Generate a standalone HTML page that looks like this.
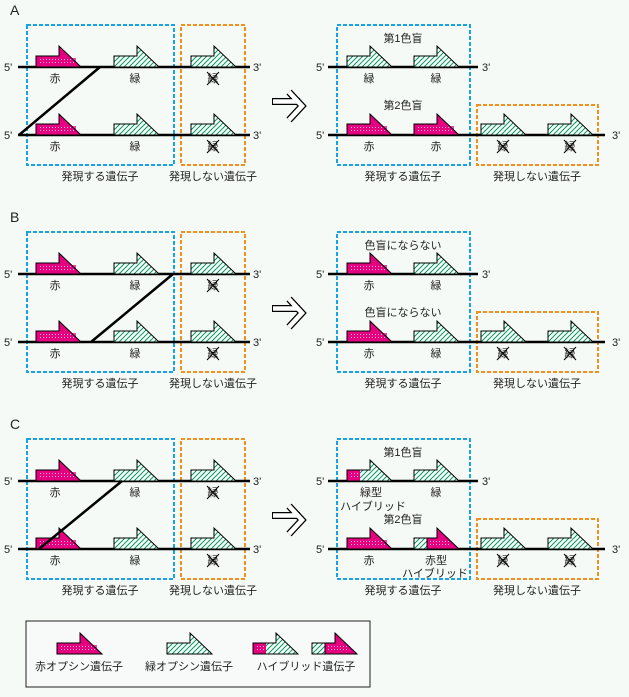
<!DOCTYPE html>
<html><head><meta charset="utf-8"><style>
html,body{margin:0;padding:0;background:#f6faf7;}
svg{display:block;}
text{font-family:"Liberation Sans","Noto Sans CJK JP",sans-serif;font-size:11px;fill:#222;}
.t{text-anchor:middle;}
.big{font-size:14px;}
</style></head><body>
<svg width="629" height="697" viewBox="0 0 629 697" xmlns="http://www.w3.org/2000/svg">
<defs>
<pattern id="hat" width="5" height="5" patternUnits="userSpaceOnUse">
<rect width="5" height="5" fill="#fff"/>
<path d="M-1,6 L6,-1 M-1,1 L1,-1 M4,6 L6,4" stroke="#009a5e" stroke-width="1"/>
</pattern>
<pattern id="dots" width="3" height="3" patternUnits="userSpaceOnUse">
<rect width="3" height="3" fill="#e4007f"/>
<rect x="1" y="1" width="1" height="1" fill="#fff"/>
</pattern>
<g id="red"><path d="M0,0 V-11 H23 V-21 L45,0 Z" fill="#e4007f"/><rect x="2" y="-9" width="38" height="7" fill="url(#dots)" opacity=".7"/><path d="M0,0 V-11 H23 V-21 L45,0 Z" fill="none" stroke="#000" stroke-width="1"/></g>
<g id="grn"><path d="M0,0 V-11 H23 V-21 L45,0 Z" fill="url(#hat)" stroke="#000" stroke-width="1"/></g>
<g id="hgr"><path d="M0,0 V-11 H23 V-21 L45,0 Z" fill="url(#hat)"/><rect x="0" y="-11" width="13" height="11" fill="#e4007f"/><rect x="2" y="-9" width="10" height="7" fill="url(#dots)" opacity=".7"/><path d="M0,0 V-11 H23 V-21 L45,0 Z" fill="none" stroke="#000"/></g>
<g id="hrg"><path d="M0,0 V-11 H23 V-21 L45,0 Z" fill="#e4007f"/><rect x="0" y="-11" width="13" height="11" fill="url(#hat)"/><rect x="15" y="-9" width="20" height="7" fill="url(#dots)" opacity=".7"/><path d="M13,0 V-11 M0,0 V-11 H23 V-21 L45,0 Z" fill="none" stroke="#000"/></g>
<g id="xg"><text x="0" y="0" class="t">緑</text><path d="M-6,-10 L6,3 M6,-10 L-6,3" stroke="#000" stroke-width="1"/></g>
<g id="arrow">
<path d="M272,101.5 H300 M289,92 L302,106 L289,120" fill="none" stroke="#000" stroke-width="7" stroke-linejoin="miter" stroke-linecap="butt"/>
<path d="M273,101.5 H299 M289,92 L302,106 L289,120" fill="none" stroke="#fff" stroke-width="4.5" stroke-linejoin="miter" stroke-linecap="butt"/>
</g>
<g id="leftbox">
<rect x="27" y="25" width="147" height="140" fill="none" stroke="#1aa3e0" stroke-width="2" stroke-dasharray="4,2"/>
<rect x="181" y="25" width="64" height="140" fill="none" stroke="#f0901e" stroke-width="2" stroke-dasharray="4,2"/>
<line x1="18" y1="67" x2="250" y2="67" stroke="#000" stroke-width="2.5"/>
<line x1="18" y1="135" x2="250" y2="135" stroke="#000" stroke-width="2.5"/>
<text x="4" y="71">5'</text><text x="4" y="139">5'</text>
<text x="253" y="71">3'</text><text x="253" y="139">3'</text>
<use href="#grn" x="114" y="67"/><use href="#grn" x="191" y="67"/>
<use href="#grn" x="114" y="135"/><use href="#grn" x="191" y="135"/>
<text x="55" y="82" class="t">赤</text><text x="135" y="82" class="t">緑</text><use href="#xg" x="213" y="82"/>
<text x="55" y="150" class="t">赤</text><text x="135" y="150" class="t">緑</text><use href="#xg" x="213" y="150"/>
<text x="100" y="180" class="t">発現する遺伝子</text><text x="213" y="180" class="t">発現しない遺伝子</text>
<use href="#arrow"/>
<rect x="337" y="25" width="133" height="140" fill="none" stroke="#1aa3e0" stroke-width="2" stroke-dasharray="4,2"/>
<rect x="477" y="105" width="121" height="60" fill="none" stroke="#f0901e" stroke-width="2" stroke-dasharray="4,2"/>
<line x1="328" y1="67" x2="478" y2="67" stroke="#000" stroke-width="2.5"/>
<line x1="328" y1="135" x2="605" y2="135" stroke="#000" stroke-width="2.5"/>
<text x="316" y="71">5'</text><text x="316" y="139">5'</text>
<text x="482" y="71">3'</text><text x="612" y="139">3'</text>
<use href="#grn" x="481" y="135"/><use href="#grn" x="548" y="135"/>
<use href="#xg" x="503" y="150"/><use href="#xg" x="570" y="150"/>
<text x="403" y="180" class="t">発現する遺伝子</text><text x="537" y="180" class="t">発現しない遺伝子</text>
</g>
</defs>

<!-- A -->
<text x="10" y="15" class="big">A</text>
<use href="#leftbox"/>
<use href="#red" x="36" y="67"/><use href="#red" x="36" y="135"/>
<line x1="100" y1="67" x2="19" y2="135" stroke="#000" stroke-width="2.5"/>
<text x="403" y="42" class="t">第1色盲</text><text x="403" y="109" class="t">第2色盲</text>
<use href="#grn" x="347" y="67"/><use href="#grn" x="414" y="67"/>
<use href="#red" x="347" y="135"/><use href="#red" x="414" y="135"/>
<text x="369" y="82" class="t">緑</text><text x="436" y="82" class="t">緑</text>
<text x="369" y="150" class="t">赤</text><text x="436" y="150" class="t">赤</text>

<!-- B -->
<g transform="translate(0,207)">
<text x="10" y="15" class="big">B</text>
<use href="#leftbox"/>
<use href="#red" x="36" y="67"/><use href="#red" x="36" y="135"/>
<line x1="173" y1="67" x2="91" y2="135" stroke="#000" stroke-width="2.5"/>
<text x="403" y="42" class="t">色盲にならない</text><text x="403" y="109" class="t">色盲にならない</text>
<use href="#red" x="347" y="67"/><use href="#grn" x="414" y="67"/>
<use href="#red" x="347" y="135"/><use href="#grn" x="414" y="135"/>
<text x="369" y="82" class="t">赤</text><text x="436" y="82" class="t">緑</text>
<text x="369" y="150" class="t">赤</text><text x="436" y="150" class="t">緑</text>
</g>

<!-- C -->
<g transform="translate(0,414)">
<text x="10" y="15" class="big">C</text>
<use href="#leftbox"/>
<use href="#red" x="36" y="67"/><use href="#red" x="36" y="135"/>
<line x1="122" y1="67" x2="39" y2="135" stroke="#000" stroke-width="2.5"/>
<text x="403" y="42" class="t">第1色盲</text><text x="403" y="109" class="t">第2色盲</text>
<use href="#hgr" x="347" y="67"/><use href="#grn" x="414" y="67"/>
<use href="#red" x="347" y="135"/><use href="#hrg" x="414" y="135"/>
<text x="371" y="82" class="t">緑型</text><text x="373" y="96" class="t">ハイブリッド</text>
<text x="436" y="82" class="t">緑</text>
<text x="369" y="150" class="t">赤</text><text x="436" y="150" class="t">赤型</text>
<text x="435" y="163" class="t">ハイブリッド</text>
</g>

<!-- legend -->
<rect x="26" y="621" width="344" height="66" fill="#f7faf8" stroke="#222" stroke-width="1"/>
<use href="#red" x="57" y="654"/><use href="#grn" x="167" y="654"/>
<use href="#hgr" x="253" y="654"/><use href="#hrg" x="312" y="654"/>
<text x="79" y="670" class="t">赤オプシン遺伝子</text>
<text x="189" y="670" class="t">緑オプシン遺伝子</text>
<text x="306" y="670" class="t">ハイブリッド遺伝子</text>
</svg>
</body></html>
